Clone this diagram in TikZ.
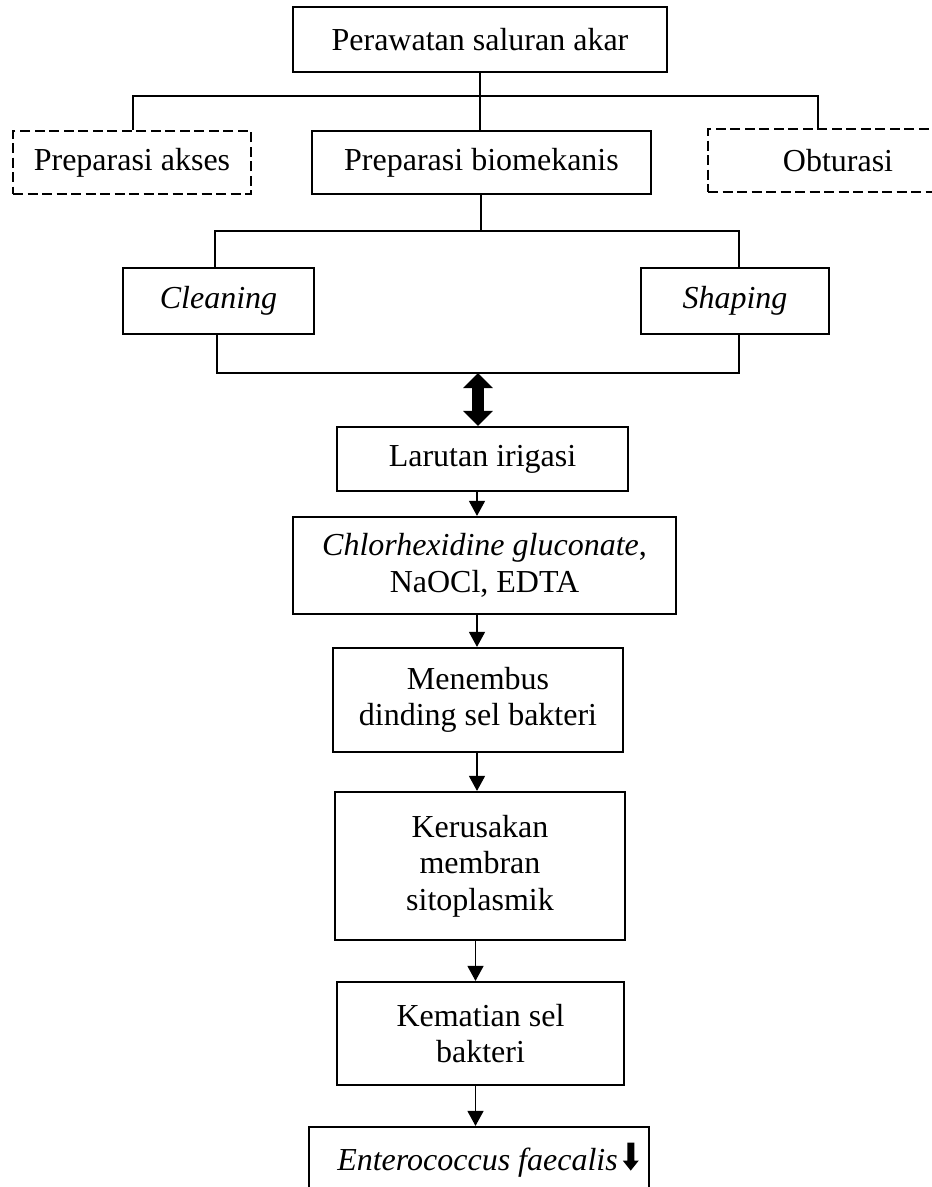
\documentclass[tikz,border=0pt]{standalone}
\usepackage{fontspec}
\setmainfont{Liberation Serif}
\usetikzlibrary{arrows.meta}
\begin{document}
\begin{tikzpicture}[x=1pt,y=-1pt,
  box/.style={draw, line width=2.2pt, rectangle, inner sep=0pt, align=center,
    font=\fontsize{32}{36.5}\selectfont},
  dbox/.style={box, line width=2pt, dash pattern=on 10pt off 4.5pt},
  tree/.style={line width=2.2pt},
  arr/.style={line width=1.4pt, -{Triangle[width=16pt,length=15pt]}},
  dbl/.style={line width=12pt, {Triangle[width=29pt,length=15pt]}-{Triangle[width=29pt,length=15pt]}}]
\useasboundingbox (0,0) rectangle (932,1187);
\clip (0,0) rectangle (932,1187);
% nodes
\node[box, minimum width=374pt, minimum height=65pt] (top) at (480,39.5) {Perawatan saluran akar};
\node[dbox, minimum width=238pt, minimum height=63pt] (akses) at (132,162.5) {Preparasi akses};
\node[box, minimum width=339pt, minimum height=63pt] (bio) at (481.5,162.5) {Preparasi biomekanis};
\node[dbox, minimum width=260pt, minimum height=63pt] (obt) at (838,160.5) {Obturasi};
\node[box, minimum width=191pt, minimum height=66pt] (clean) at (218.5,301) {\textit{Cleaning}};
\node[box, minimum width=188pt, minimum height=66pt] (shape) at (735,301) {\textit{Shaping}};
\node[box, minimum width=291pt, minimum height=64pt] (lar) at (482.5,459) {Larutan irigasi};
\node[box, minimum width=383pt, minimum height=97pt] (chx) at (484.5,565.5) {\textit{Chlorhexidine gluconate},\\NaOCl, EDTA};
\node[box, minimum width=290pt, minimum height=104pt] (men) at (478,700) {Menembus\\dinding sel bakteri};
\node[box, minimum width=290pt, minimum height=148pt] (ker) at (480,866) {Kerusakan\\membran\\sitoplasmik};
\node[box, minimum width=287pt, minimum height=103pt] (kem) at (480.5,1033.5) {Kematian sel\\bakteri};
\node[box, minimum width=340pt, minimum height=66pt] (ent) at (479,1160) {\hspace*{18pt}\textit{Enterococcus faecalis}\kern5pt\tikz[baseline=0pt,x=1pt,y=1pt]\fill (-3.5,28)--(3.5,28)--(3.5,10)--(8,10)--(0,0)--(-8,10)--(-3.5,10)--cycle;};
% tree connectors
\coordinate (h1l) at (133,96);
\coordinate (h1r) at (818,96);
\draw[tree] (top.south) -- (top.south |- bio.north);
\draw[tree] (akses.north -| h1l) -- (h1l) -- (h1r) -- (obt.north -| h1r);
\coordinate (h2l) at (215,231);
\coordinate (h2r) at (739,231);
\draw[tree] (bio.south -| 481,0) -- (481,231);
\draw[tree] (clean.north -| h2l) -- (h2l) -- (h2r) -- (shape.north -| h2r);
\coordinate (h3l) at (217,373);
\coordinate (h3r) at (739,373);
\draw[tree] (clean.south -| h3l) -- (h3l) -- (h3r) -- (shape.south -| h3r);
% double arrow
\coordinate (dtop) at (478,373);
\draw[dbl] (dtop) -- (dtop |- lar.north);
% arrows
\coordinate (axis) at (477,0);
\draw[arr] (lar.south -| axis) -- (chx.north -| axis);
\draw[arr] (chx.south -| axis) -- (men.north -| axis);
\draw[arr] (men.south -| axis) -- (ker.north -| axis);
\coordinate (axisb) at (475.5,0);
\draw[arr] (ker.south -| axisb) -- (kem.north -| axisb);
\draw[arr] (kem.south -| axisb) -- (ent.north -| axisb);
\end{tikzpicture}
\end{document}
